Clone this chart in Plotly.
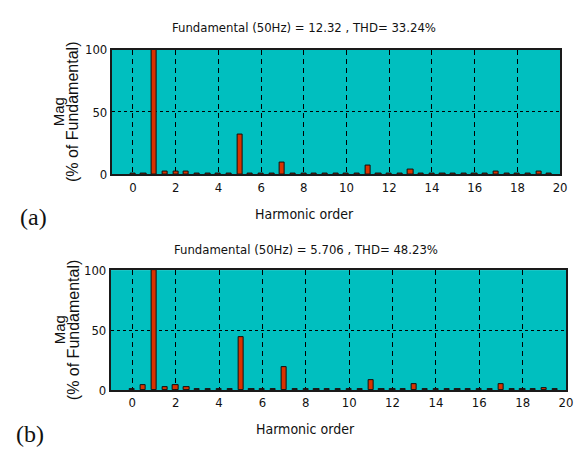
import plotly.graph_objects as go

harmonic_order = [0, 0.5, 1, 1.5, 2, 2.5, 3, 3.5, 4, 4.5, 5, 5.5, 6, 6.5, 7, 7.5,
                  8, 8.5, 9, 9.5, 10, 10.5, 11, 11.5, 12, 12.5, 13, 13.5, 14, 14.5,
                  15, 15.5, 16, 16.5, 17, 17.5, 18, 18.5, 19, 19.5]

mag_a = [0.8, 0.8, 100, 2.5, 2.5, 2.5, 0.8, 0.8, 0.8, 0.8, 31.5, 0.8, 0.8, 0.8, 9.5, 0.8,
         0.8, 0.8, 0.8, 0.8, 0.8, 0.8, 7.0, 0.8, 0.8, 0.8, 3.5, 0.8, 0.8, 0.8,
         0.8, 0.8, 0.8, 0.8, 2.5, 0.8, 0.8, 0.8, 2.5, 0.8]

mag_b = [0.8, 3.8, 100, 2.7, 3.8, 2.7, 0.8, 0.8, 0.8, 0.8, 44.0, 0.8, 0.8, 0.8, 18.8, 0.8,
         0.8, 0.8, 0.8, 0.8, 0.8, 0.8, 8.0, 0.8, 0.8, 0.8, 4.6, 0.8, 0.8, 0.8,
         0.8, 0.8, 0.8, 0.8, 4.6, 0.8, 0.8, 0.8, 2.0, 0.8]

x_ticks = [0, 2, 4, 6, 8, 10, 12, 14, 16, 18, 20]
y_ticks = [0, 50, 100]

title_a = "Fundamental (50Hz) = 12.32 , THD= 33.24%"
title_b = "Fundamental (50Hz) = 5.706 , THD= 48.23%"

W, H = 575, 459
NARROW = "DejaVu Sans Condensed, Liberation Sans Narrow, sans-serif"
REG = "Liberation Sans, Arial, sans-serif"
TEAL = "#00BFBF"
RED = "#D93300"

def px(x):
    return x / W

def py(y):
    return 1 - y / H

fig = go.Figure()
fig.add_trace(go.Bar(x=harmonic_order, y=mag_a, width=0.24, marker=dict(color=RED, line=dict(color="#101010", width=1)),
                     xaxis="x", yaxis="y", showlegend=False))
fig.add_trace(go.Bar(x=harmonic_order, y=mag_b, width=0.24, marker=dict(color=RED, line=dict(color="#101010", width=1)),
                     xaxis="x2", yaxis="y2", showlegend=False))

common_x = dict(range=[-1, 20], tickvals=x_ticks, ticktext=[str(v) for v in x_ticks],
                showgrid=True, gridcolor="#000000", gridwidth=1, griddash="5px,4px",
                showline=True, linecolor="#1a1a1a", linewidth=1.5, mirror=True,
                ticks="", zeroline=False, ticklabeloverflow="allow",
                tickfont=dict(family=NARROW, size=13, color="#111"))
common_y = dict(range=[0, 100], tickvals=y_ticks, showgrid=True, gridcolor="#000000", gridwidth=1,
                griddash="3px,3px", showline=True, linecolor="#1a1a1a", linewidth=1.5, mirror=True,
                ticks="", zeroline=False, tickfont=dict(family=NARROW, size=13, color="#111"))

fig.update_layout(
    width=W, height=H, margin=dict(l=0, r=0, t=0, b=0),
    paper_bgcolor="white", plot_bgcolor=TEAL, bargap=0,
    xaxis=dict(domain=[px(113), px(567)], anchor="y", **common_x),
    yaxis=dict(domain=[py(173), py(44)], anchor="x", **common_y),
    xaxis2=dict(domain=[px(112), px(573)], anchor="y2", **common_x),
    yaxis2=dict(domain=[py(396), py(272)], anchor="x2", **common_y),
)

ann = []
def text(x, y, s, font, size, angle=0):
    ann.append(dict(x=px(x), y=py(y), xref="paper", yref="paper", text=s, showarrow=False,
                    xanchor="center", yanchor="middle", textangle=angle,
                    font=dict(family=font, size=size, color="#111")))

text(308, 21, title_a, NARROW, 13)
text(310, 251, title_b, NARROW, 13)
text(308, 214, "Harmonic order", NARROW, 14)
text(309, 436, "Harmonic order", NARROW, 14)
text(34, 217, "(a)", "Liberation Serif, Times New Roman, serif", 24)
text(30, 441, "(b)", "Liberation Serif, Times New Roman, serif", 24)
for yc in (108.5, 334):
    text(60, yc, "Mag", REG, 15, -90)
    text(74, yc, "(% of Fundamental)", REG, 16, -90)

fig.update_layout(annotations=ann)
fig.write_html("out.html", config={"displayModeBar": False},
               post_script="document.body.style.margin='0';document.body.style.overflow='hidden';")
